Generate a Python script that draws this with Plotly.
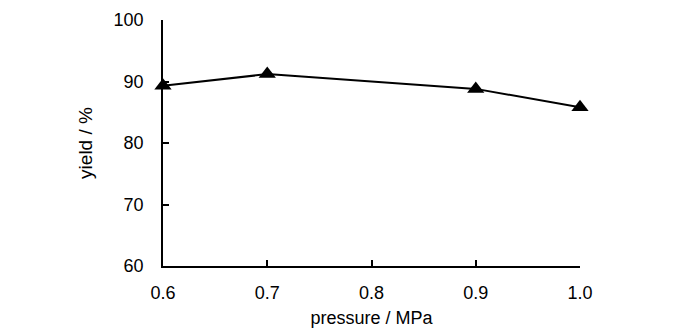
import plotly.graph_objects as go

pressure = [0.6, 0.7, 0.9, 1.0]
yield_pct = [89.3, 91.2, 88.8, 85.8]
x_ticks = [0.6, 0.7, 0.8, 0.9, 1.0]
x_tick_labels = ["0.6", "0.7", "0.8", "0.9", "1.0"]
y_ticks = [60, 70, 80, 90, 100]

fig = go.Figure()
fig.add_trace(go.Scatter(
    x=pressure, y=yield_pct, mode="lines+markers",
    line=dict(color="black", width=2),
    marker=dict(symbol="triangle-up", size=15, color="black"),
    cliponaxis=False, showlegend=False,
))

font = "Liberation Sans, Arial, sans-serif"
fig.update_layout(
    width=700, height=332,
    margin=dict(l=163, r=120, t=20, b=66),
    plot_bgcolor="white", paper_bgcolor="white",
    font=dict(family=font, color="black", size=18),
)
fig.update_xaxes(
    range=[0.6, 1.0], tickvals=x_ticks, ticktext=x_tick_labels,
    showline=True, linecolor="black", linewidth=1.5,
    ticks="inside", ticklen=6, tickwidth=1.5, tickcolor="black",
    showgrid=False, zeroline=False, ticklabelstandoff=10,
    tickfont=dict(size=18), automargin=False,
    title=dict(text="pressure / MPa", font=dict(size=18), standoff=9),
)
fig.update_yaxes(
    range=[60, 100], tickvals=y_ticks,
    showline=True, linecolor="black", linewidth=1.5,
    ticks="inside", ticklen=6, tickwidth=1.5, tickcolor="black",
    showgrid=False, zeroline=False, ticklabelstandoff=14,
    tickfont=dict(size=18), automargin=False,
    title=dict(text="yield / %", font=dict(size=19), standoff=16),
)
fig.write_html("out.html")
